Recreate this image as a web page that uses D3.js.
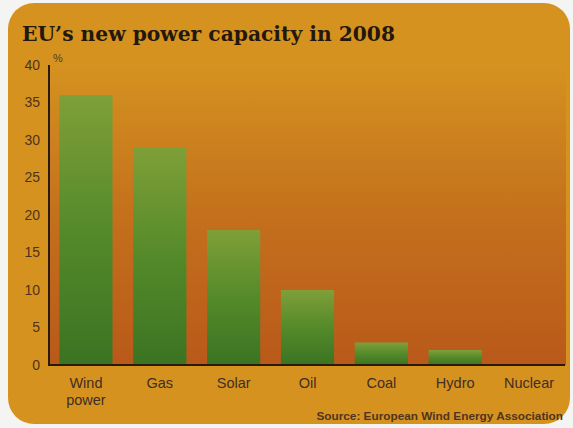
<!DOCTYPE html>
<html>
<head>
<meta charset="utf-8">
<script src="https://cdn.jsdelivr.net/npm/d3@7"></script>
<style>
html,body{margin:0;padding:0;background:#f4f4f2;}
svg{display:block;}
</style>
</head>
<body>
<svg id="chart" width="573" height="428"></svg>
<script>
const categories = ["Wind\npower", "Gas", "Solar", "Oil", "Coal", "Hydro", "Nuclear"];
const values = [36, 29, 18, 10, 3, 2, 0];
const yTicks = [0, 5, 10, 15, 20, 25, 30, 35, 40];
const title = "EU\u2019s new power capacity in 2008";
const source = "Source: European Wind Energy Association";

const svg = d3.select("#chart");
const defs = svg.append("defs");

const cardColor = "#d6921f";

const plotGrad = defs.append("linearGradient").attr("id","plot").attr("x1","0").attr("y1","0").attr("x2","0").attr("y2","1");
plotGrad.append("stop").attr("offset","0").attr("stop-color",cardColor);
plotGrad.append("stop").attr("offset","0.12").attr("stop-color","#d08a1f");
plotGrad.append("stop").attr("offset","0.5").attr("stop-color","#c4701c");
plotGrad.append("stop").attr("offset","1").attr("stop-color","#b9591a");

const barGrad = defs.append("linearGradient").attr("id","bar").attr("x1","0").attr("y1","0").attr("x2","0").attr("y2","1");
barGrad.append("stop").attr("offset","0").attr("stop-color","#7f9f38");
barGrad.append("stop").attr("offset","0.5").attr("stop-color","#558a2a");
barGrad.append("stop").attr("offset","1").attr("stop-color","#3b7322");

// card
svg.append("rect").attr("x",8).attr("y",3).attr("width",562).attr("height",421)
  .attr("rx",26).attr("fill",cardColor);

const x0 = 49, x1 = 566, yTop = 65, yBase = 365;
const x = d3.scaleBand().domain(categories).range([x0, x1]).paddingInner(0.28).paddingOuter(0.14);
const y = d3.scaleLinear().domain([0, 40]).range([yBase, yTop]);

// plot area
svg.append("rect").attr("x",x0).attr("y",y(40)).attr("width",x1-x0).attr("height",yBase-y(40))
  .attr("fill","url(#plot)");

// bars
svg.append("g").selectAll("rect").data(values).join("rect")
  .attr("x",(d,i)=>x(categories[i]))
  .attr("y",d=>y(d))
  .attr("width",x.bandwidth())
  .attr("height",d=>yBase-y(d))
  .attr("fill","url(#bar)");

// y axis
const yAxis = d3.axisLeft(y).tickValues(yTicks).tickSize(0).tickPadding(9);
const gy = svg.append("g").attr("transform",`translate(${x0},0)`).call(yAxis);
gy.select(".domain").remove();
gy.selectAll("text").attr("font-family","'Liberation Sans', Arial, sans-serif")
  .attr("font-size",14).attr("fill","#4e321c");

// x axis
const xAxis = d3.axisBottom(x).tickSize(0).tickPadding(0).tickFormat("");
const gx = svg.append("g").attr("transform",`translate(0,${yBase})`).call(xAxis);
gx.select(".domain").remove();
gx.selectAll(".tick").each(function(d){
  const lines = d.split("\n");
  const t = d3.select(this).append("text")
    .attr("text-anchor","middle")
    .attr("font-family","'Liberation Sans', Arial, sans-serif")
    .attr("font-size",14.5).attr("fill","#3e2e24");
  lines.forEach((l,i)=>t.append("tspan").attr("x",0).attr("y",23 + i*17).text(l));
});

// axis lines
svg.append("line").attr("x1",x0).attr("x2",x0).attr("y1",yTop).attr("y2",yBase+1)
  .attr("stroke","#2a1a0e").attr("stroke-width",2);
svg.append("line").attr("x1",x0-1).attr("x2",x1-1).attr("y1",yBase).attr("y2",yBase)
  .attr("stroke","#2a1a0e").attr("stroke-width",2);

// percent sign
svg.append("text").attr("x",53).attr("y",62).text("%")
  .attr("font-family","'Liberation Sans', Arial, sans-serif").attr("font-size",11).attr("fill","#5b3a1e");

// title
svg.append("text").attr("x",22).attr("y",41).text(title)
  .attr("font-family","'DejaVu Serif', serif").attr("font-weight","bold")
  .attr("font-size",20).attr("fill","#24170e")
  .attr("textLength",373).attr("lengthAdjust","spacingAndGlyphs");

// source
svg.append("text").attr("x",563).attr("y",420).attr("text-anchor","end").text(source)
  .attr("font-family","'Liberation Sans', Arial, sans-serif").attr("font-size",11.8)
  .attr("font-weight","bold").attr("fill","#4f3520");
</script>
</body>
</html>
